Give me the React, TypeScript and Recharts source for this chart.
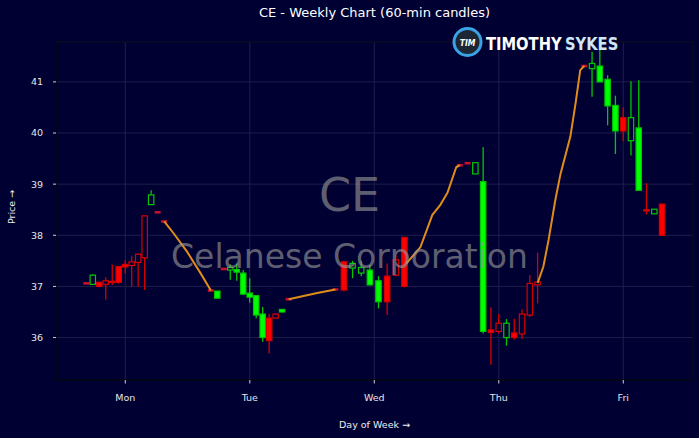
import React from 'react'
import { ComposedChart, Bar, Line, XAxis, YAxis, CartesianGrid, ReferenceArea } from 'recharts'

// [hours since Mon 00:00, open, high, low, close]
type Candle = [number, number, number, number, number]

const monCandles: Candle[] = [
  [4.5, 37.06, 37.06, 37.06, 37.06],
  [5.75, 37.22, 37.24, 37.03, 37.04],
  [7.0, 37.0, 37.09, 36.99, 37.08],
  [8.25, 37.04, 37.18, 36.74, 37.11],
  [9.5, 37.08, 37.43, 37.03, 37.1],
  [10.75, 37.08, 37.4, 37.05, 37.39],
  [12.0, 37.38, 37.51, 37.25, 37.43],
  [13.25, 37.41, 37.59, 36.99, 37.48],
  [14.5, 37.47, 37.64, 36.99, 37.63],
  [15.75, 37.56, 38.39, 36.93, 38.38],
  [17.0, 38.79, 38.88, 38.59, 38.6],
  [18.25, 38.45, 38.45, 38.45, 38.45],
  [19.5, 38.27, 38.27, 38.27, 38.27],
]
const monHollow = [0, 1, 0, 1, 0, 0, 0, 1, 1, 1, 1, 0, 0]

const tueCandles: Candle[] = [
  [28.5, 36.92, 36.92, 36.92, 36.92],
  [29.75, 36.91, 36.91, 36.77, 36.77],
  [31.0, 37.34, 37.34, 37.34, 37.34],
  [32.25, 37.37, 37.43, 37.13, 37.32],
  [33.5, 37.33, 37.45, 37.11, 37.28],
  [34.75, 37.26, 37.32, 36.84, 36.85],
  [36.0, 36.87, 37.16, 36.68, 36.79],
  [37.25, 36.82, 36.82, 36.38, 36.44],
  [38.5, 36.46, 36.6, 35.92, 36.0],
  [39.75, 35.94, 36.46, 35.69, 36.38],
  [41.0, 36.38, 36.47, 36.37, 36.46],
  [42.25, 36.55, 36.56, 36.49, 36.5],
  [43.5, 36.75, 36.75, 36.75, 36.75],
]
const tueHollow = [0, 0, 0, 1, 0, 0, 0, 0, 0, 0, 1, 0, 0]

const wedCandles: Candle[] = [
  [52.5, 36.94, 36.94, 36.94, 36.94],
  [54.17, 36.93, 37.5, 36.9, 37.48],
  [55.83, 37.45, 37.5, 37.16, 37.36],
  [57.5, 37.37, 37.5, 37.2, 37.26],
  [59.17, 37.32, 37.42, 37.02, 37.03],
  [60.83, 37.11, 37.2, 36.57, 36.7],
  [62.5, 36.7, 37.45, 36.44, 37.2],
  [64.17, 37.22, 37.61, 37.2, 37.52],
  [65.83, 37.0, 37.96, 36.98, 37.96],
]
const wedHollow = [0, 0, 1, 1, 0, 0, 0, 1, 0]

const thuCandles: Candle[] = [
  [76.5, 39.37, 39.37, 39.37, 39.37],
  [78.0, 39.41, 39.41, 39.41, 39.41],
  [79.5, 39.42, 39.42, 39.2, 39.2],
  [81.0, 39.05, 39.72, 36.08, 36.12],
  [82.5, 36.1, 36.59, 35.47, 36.15],
  [84.0, 36.12, 36.46, 36.08, 36.28],
  [85.5, 36.28, 36.36, 35.84, 36.0],
  [87.0, 36.0, 36.37, 35.96, 36.09],
  [88.5, 36.07, 36.55, 35.97, 36.46],
  [90.0, 36.44, 37.22, 36.4, 37.06],
  [91.5, 37.03, 37.66, 36.67, 37.09],
]
const thuHollow = [0, 0, 1, 0, 0, 1, 1, 0, 1, 1, 1]

const friCandles: Candle[] = [
  [100.5, 41.31, 41.31, 41.31, 41.31],
  [102.0, 41.36, 41.59, 40.71, 41.26],
  [103.5, 41.31, 41.63, 41.0, 41.0],
  [105.0, 41.05, 41.13, 40.15, 40.53],
  [106.5, 40.54, 40.73, 39.59, 40.04],
  [108.0, 40.04, 40.5, 39.84, 40.3],
  [109.5, 40.3, 41.01, 39.56, 39.85],
  [111.0, 40.1, 41.03, 38.88, 38.88],
  [112.5, 38.48, 39.02, 38.41, 38.5],
  [114.0, 38.51, 38.51, 38.42, 38.42],
  [115.5, 38.0, 38.61, 38.0, 38.61],
]
const friHollow = [0, 1, 0, 0, 0, 0, 1, 0, 0, 1, 0]

// overnight price path [hours, price]
const nightMonTue = [[19.5, 38.27], [21.3, 38.04], [23.9, 37.68], [26.5, 37.26], [28.5, 36.92]]
const nightTueWed = [[43.5, 36.75], [45.7, 36.8], [49.0, 36.87], [52.5, 36.94]]
const nightWedThu = [[66.2, 37.45], [68.9, 37.77], [71.2, 38.4], [72.7, 38.59], [74.1, 38.83], [75.8, 39.33], [76.5, 39.37]]
const nightThuFri = [[91.5, 37.07], [92.6, 37.39], [93.6, 37.91], [94.9, 38.69], [95.9, 39.2], [97.8, 39.93], [98.8, 40.58], [99.7, 41.23], [100.5, 41.31]]

const dayNames = ['Mon', 'Tue', 'Wed', 'Thu', 'Fri']
const dayTicks = [12, 36, 60, 84, 108]
const priceTicks = [36, 37, 38, 39, 40, 41]

const X_DOMAIN: [number, number] = [-1.36, 121.44]
const Y_DOMAIN: [number, number] = [35.17, 41.78]

const BG = '#000033'
const UP = '#ff0000', UP_EDGE = '#d40000'
const DN = '#00ff00', DN_EDGE = '#00c800'
const DOJI = '#c8102e'
const NIGHT = '#e08c18'
const FONT = 'DejaVu Sans, sans-serif'

const toRows = (cs: Candle[], hollow: number[]) =>
  cs.map(([t, o, h, l, c], i) => ({ t, o, h, l, c, range: [l, h], hollow: hollow[i] === 1 }))

const rows = [
  ...toRows(monCandles, monHollow),
  ...toRows(tueCandles, tueHollow),
  ...toRows(wedCandles, wedHollow),
  ...toRows(thuCandles, thuHollow),
  ...toRows(friCandles, friHollow),
]

const toPath = (pts: number[][]) => pts.map(([t, p]) => ({ t, p }))

const CandleShape = (props: any) => {
  const { x, y, width, height, payload } = props
  if (x == null || y == null || !payload) return null
  const { o, h, l, c, hollow } = payload
  const cx = x + width / 2
  const bw = 5.4
  if (h === l) {
    return <rect x={cx - bw / 2 - 0.3} y={y - 1.3} width={bw + 0.6} height={2.6} fill={DOJI} />
  }
  const k = height / (h - l)
  const py = (v: number) => y + (h - v) * k
  const up = c >= o
  const top = py(Math.max(o, c))
  const bot = py(Math.min(o, c))
  const edge = up ? UP_EDGE : DN_EDGE
  const fill = hollow ? BG : up ? UP : DN
  return (
    <g>
      <line x1={cx} x2={cx} y1={py(h)} y2={py(l)} stroke={edge} strokeWidth={1.3} />
      <rect x={cx - bw / 2} y={top} width={bw} height={Math.max(bot - top, 1.2)} fill={fill} stroke={edge} strokeWidth={1.2} />
    </g>
  )
}

const nightLine = (pts: number[][], key: string) => (
  <Line key={key} data={toPath(pts)} dataKey="p" type="linear" stroke={NIGHT} strokeWidth={2}
    dot={false} activeDot={false} isAnimationActive={false} />
)

export default function App() {
  return (
    <div style={{ position: 'fixed', left: 0, top: 0, width: 699, height: 438, background: BG }}>
      <ComposedChart width={699} height={438} data={rows} margin={{ top: 42, right: 6, bottom: 0, left: 0 }}>
        <CartesianGrid stroke="#1e1e4c" strokeWidth={1} />
        <ReferenceArea x1={X_DOMAIN[0]} x2={X_DOMAIN[1]} y1={Y_DOMAIN[0]} y2={Y_DOMAIN[1]}
          fill="none" stroke="#02020f" strokeWidth={1.2} />
        <XAxis type="number" dataKey="t" domain={X_DOMAIN} ticks={dayTicks} allowDataOverflow
          tickFormatter={(v: number) => dayNames[dayTicks.indexOf(v)] ?? ''}
          height={58} tickSize={3.5} tickMargin={11}
          tick={{ fill: '#e6e6e6', fontSize: 9.5, fontFamily: FONT }}
          tickLine={{ stroke: '#cfcfcf' }} axisLine={{ stroke: '#02020f' }} />
        <YAxis type="number" domain={Y_DOMAIN} ticks={priceTicks} allowDataOverflow
          width={56} tickSize={3} tickMargin={10}
          tick={{ fill: '#e6e6e6', fontSize: 9.5, fontFamily: FONT }}
          tickLine={{ stroke: '#cfcfcf' }} axisLine={{ stroke: '#02020f' }} />
        <Bar dataKey="range" barSize={6} shape={CandleShape} isAnimationActive={false} />
        {nightLine(nightMonTue, 'n1')}
        {nightLine(nightTueWed, 'n2')}
        {nightLine(nightWedThu, 'n3')}
        {nightLine(nightThuFri, 'n4')}
      </ComposedChart>
      <svg width={699} height={438} style={{ position: 'absolute', left: 0, top: 0, pointerEvents: 'none' }}>
        <text x={374.5} y={17} textAnchor="middle" fontFamily={FONT} fontSize={13} fill="#ffffff">
          CE - Weekly Chart (60-min candles)
        </text>
        <text x={349.5} y={211} textAnchor="middle" fontFamily={FONT} fontSize={46} fill="#969696" opacity={0.63}>CE</text>
        <text x={349.5} y={268} textAnchor="middle" fontFamily={FONT} fontSize={33} fill="#969696" opacity={0.63}>
          Celanese Corporation
        </text>
        <text x={374.5} y={428} textAnchor="middle" fontFamily={FONT} fontSize={9.5} fill="#eeeeee">Day of Week →</text>
        <text transform="translate(14.5,207) rotate(-90)" textAnchor="middle" fontFamily={FONT} fontSize={9.5} fill="#eeeeee">
          Price →
        </text>
        <g>
          <circle cx={467.5} cy={42} r={13.5} fill="#1d2733" stroke="#3aa3e6" strokeWidth={3} />
          <text transform="translate(467.5,45.5) scale(0.85,1)" textAnchor="middle" fontFamily={FONT}
            fontWeight="bold" fontStyle="italic" fontSize={9} fill="#ffffff">TIM</text>
          <text transform="translate(486,50) scale(0.84,1)" fontFamily={FONT} fontWeight="bold" fontSize={17.5}
            fill="#ffffff">TIMOTHY</text>
          <text transform="translate(565,50) scale(0.84,1)" fontFamily={FONT} fontWeight="bold" fontSize={17.5}
            fill="#cfe6f7">SYKES</text>
        </g>
      </svg>
    </div>
  )
}
